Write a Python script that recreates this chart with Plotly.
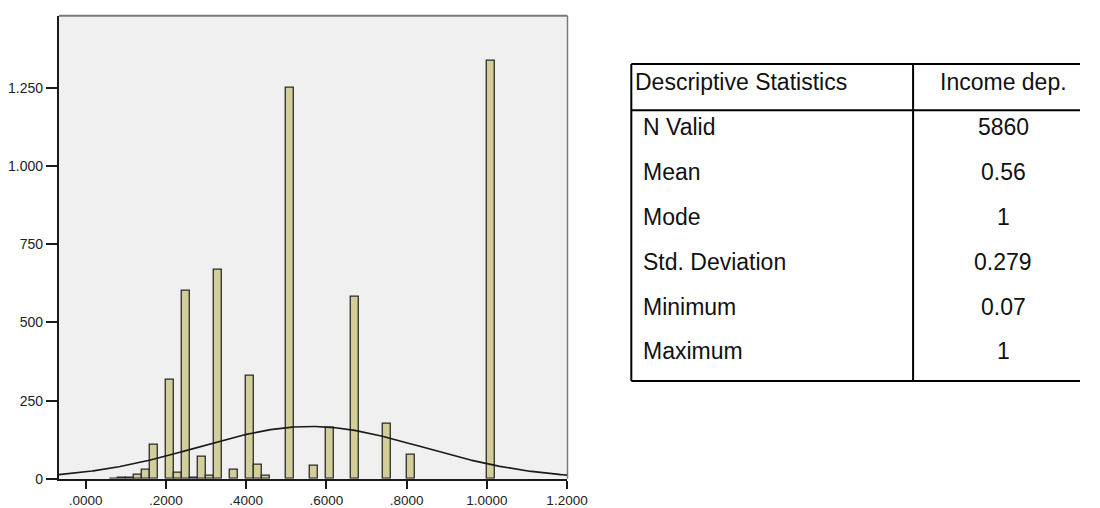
import numpy as np
import plotly.graph_objects as go

# Histogram of income dependency: bin left edges (width 0.02) and counts
bin_width = 0.02
bin_left = [0.06, 0.08, 0.10, 0.12, 0.14, 0.16, 0.20, 0.22, 0.24, 0.26,
            0.28, 0.30, 0.32, 0.36, 0.40, 0.42, 0.44, 0.50, 0.56, 0.60,
            0.66, 0.74, 0.80, 1.00]
counts = [1, 2, 5, 14, 29, 108, 317, 18, 600, 2,
          70, 10, 668, 30, 329, 45, 10, 1250, 42, 165,
          582, 177, 76, 1338]

# Descriptive statistics table
stat_names = ["N Valid", "Mean", "Mode", "Std. Deviation", "Minimum", "Maximum"]
stat_values = ["5860", "0.56", "1", "0.279", "0.07", "1"]
table_title = "Descriptive Statistics"
column_title = "Income dep."

# Parameters for the fitted normal curve
n_valid = 5860
mean = 0.56
std_dev = 0.279

# Axis ticks
y_ticks = [0, 250, 500, 750, 1000, 1250]
y_tick_text = ["0", "250", "500", "750", "1.000", "1.250"]
x_ticks = [0.0, 0.2, 0.4, 0.6, 0.8, 1.0, 1.2]
x_tick_text = [".0000", ".2000", ".4000", ".6000", ".8000", "1.0000", "1.2000"]

W, H = 1100, 508
FONT = "Liberation Sans, Arial, sans-serif"


def px(x):
    return x / W


def py(y):
    return 1 - y / H


x_range = [-0.0668, 1.2012]
y_range = [0, 1481]

centers = [b + bin_width / 2 for b in bin_left]

fig = go.Figure()
fig.add_trace(go.Bar(
    x=centers, y=counts, width=[bin_width] * len(counts),
    marker=dict(color="#D4CF98", line=dict(color="#2b2b2b", width=1.3)),
    showlegend=False, hoverinfo="x+y",
))

xs = np.linspace(x_range[0], x_range[1], 400)
curve = n_valid * bin_width / (std_dev * np.sqrt(2 * np.pi)) * np.exp(-0.5 * ((xs - mean) / std_dev) ** 2)
fig.add_trace(go.Scatter(
    x=xs, y=curve, mode="lines", line=dict(color="#1a1a1a", width=1.6),
    showlegend=False, hoverinfo="skip",
))

left_px, right_px, top_px, bottom_px = 60, 578, 16, 486.5

fig.update_layout(
    width=W, height=H,
    margin=dict(l=0, r=0, t=0, b=0),
    paper_bgcolor="white",
    plot_bgcolor="#F0F0F0",
    bargap=0,
    font=dict(family=FONT, color="#222"),
    xaxis=dict(
        domain=[px(left_px), px(right_px)], range=x_range,
        tickvals=x_ticks, ticktext=x_tick_text,
        showgrid=False, zeroline=False,
        showline=True, linecolor="#1a1a1a", linewidth=2,
        ticks="outside", ticklen=8, tickwidth=1.5, tickcolor="#1a1a1a",
        tickfont=dict(size=13.5, color="#222", family=FONT),
    ),
    yaxis=dict(
        domain=[py(bottom_px), py(top_px)], range=y_range,
        tickvals=y_ticks, ticktext=y_tick_text,
        showgrid=False, zeroline=False,
        showline=True, linecolor="#1a1a1a", linewidth=2,
        ticks="outside", ticklen=11, tickwidth=1.5, tickcolor="#1a1a1a",
        tickfont=dict(size=14, color="#222", family=FONT),
    ),
)

shapes = []
# top and right frame of the plot area
shapes.append(dict(type="line", xref="paper", yref="paper",
                   x0=px(left_px), x1=px(right_px), y0=py(top_px), y1=py(top_px),
                   line=dict(color="#7a7a7a", width=2)))
shapes.append(dict(type="line", xref="paper", yref="paper",
                   x0=px(right_px), x1=px(right_px), y0=py(top_px), y1=py(bottom_px),
                   line=dict(color="#7a7a7a", width=1.5)))

# table frame
t_left, t_div, t_right = 643, 930, 1100
t_top, t_head, t_bottom = 65, 112, 387
line_style = dict(color="black", width=2)
for y in (t_top, t_head, t_bottom):
    shapes.append(dict(type="line", xref="paper", yref="paper",
                       x0=px(t_left), x1=px(t_right), y0=py(y), y1=py(y), line=line_style))
for x in (t_left, t_div):
    shapes.append(dict(type="line", xref="paper", yref="paper",
                       x0=px(x), x1=px(x), y0=py(t_top), y1=py(t_bottom), line=line_style))
fig.update_layout(shapes=shapes)

annotations = []
text_font = dict(family=FONT, size=23, color="#111")
value_x = 1022
annotations.append(dict(xref="paper", yref="paper", x=px(645), y=py(83),
                        text=table_title, showarrow=False, xanchor="left",
                        yanchor="middle", font=text_font))
annotations.append(dict(xref="paper", yref="paper", x=px(value_x), y=py(83),
                        text=column_title, showarrow=False, xanchor="center",
                        yanchor="middle", font=text_font))
row_y0, row_step = 129.5, 45.5
for i, (name, val) in enumerate(zip(stat_names, stat_values)):
    y = row_y0 + i * row_step
    annotations.append(dict(xref="paper", yref="paper", x=px(653), y=py(y),
                            text=name, showarrow=False, xanchor="left",
                            yanchor="middle", font=text_font))
    annotations.append(dict(xref="paper", yref="paper", x=px(value_x), y=py(y),
                            text=val, showarrow=False, xanchor="center",
                            yanchor="middle", font=text_font))
fig.update_layout(annotations=annotations)

fig.write_html("out.html")
